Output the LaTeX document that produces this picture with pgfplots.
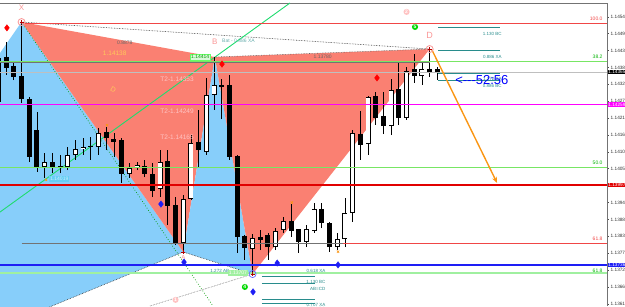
\documentclass[border=0pt]{standalone}
\usepackage{pgfplots}
\pgfplotsset{compat=1.18}
\usepackage{pgfplotstable}
\usepackage{fontspec}
\setmainfont{Liberation Sans}
\usetikzlibrary{arrows.meta}

\definecolor{salmonc}{RGB}{250,128,114}
\definecolor{skyc}{RGB}{135,206,250}
\definecolor{teal2}{RGB}{40,140,140}
\definecolor{lgreen}{RGB}{120,230,100}
\definecolor{pgreen}{RGB}{160,240,160}
\definecolor{lred}{RGB}{240,70,70}
\definecolor{mag}{RGB}{255,0,255}
\definecolor{blueln}{RGB}{30,30,245}
\definecolor{spring}{RGB}{30,220,110}
\definecolor{orng}{RGB}{250,150,20}
\definecolor{pinkc}{RGB}{250,150,150}
\definecolor{pinkt}{RGB}{255,195,195}
\definecolor{yel}{RGB}{255,200,90}
\definecolor{redd}{RGB}{225,0,0}

\pgfplotstableread{
x o h l c
0 1.14268 1.14453 1.14242 1.14411
6 1.14056 1.14102 1.14020 1.14072
9 1.14056 1.14121 1.14046 1.14095
10 1.14095 1.14144 1.14079 1.14115
11 1.14115 1.14150 1.14095 1.14121
13 1.14121 1.14183 1.14095 1.14167
17 1.14033 1.14069 1.14020 1.14053
18 1.14056 1.14072 1.14046 1.14062
21 1.13984 1.14111 1.13958 1.14072
24 1.13808 1.13965 1.13779 1.13952
25 1.13952 1.14160 1.13948 1.14134
27 1.14105 1.14346 1.14095 1.14291
28 1.14291 1.14414 1.14242 1.14323
33 1.13789 1.13838 1.13707 1.13825
36 1.13795 1.13857 1.13785 1.13847
37 1.13851 1.13893 1.13841 1.13880
40 1.13812 1.13867 1.13795 1.13854
41 1.13847 1.13939 1.13841 1.13919
44 1.13795 1.13841 1.13785 1.13821
45 1.13821 1.13955 1.13795 1.13906
46 1.13906 1.14176 1.13877 1.14167
48 1.14131 1.14287 1.14095 1.14284
51 1.14189 1.14343 1.14160 1.14307
53 1.14216 1.14382 1.14209 1.14369
55 1.14352 1.14398 1.14323 1.14375
}\whitec

\pgfplotstableread{
x o h l c
1 1.14411 1.14463 1.14356 1.14378
2 1.14382 1.14398 1.14339 1.14349
3 1.14352 1.14528 1.14264 1.14277
4 1.14277 1.14284 1.14072 1.14089
5 1.14176 1.14235 1.14040 1.14056
7 1.14069 1.14102 1.14036 1.14056
8 1.14059 1.14095 1.14036 1.14056
12 1.14124 1.14154 1.14079 1.14121
14 1.14167 1.14186 1.14111 1.14150
15 1.14147 1.14167 1.14089 1.14137
16 1.14141 1.14150 1.14004 1.14033
19 1.14059 1.14079 1.14023 1.14033
20 1.14030 1.14069 1.13958 1.13978
22 1.14075 1.14111 1.13867 1.13929
23 1.13929 1.13958 1.13802 1.13808
26 1.14137 1.14242 1.14056 1.14111
29 1.14320 1.14343 1.14212 1.14317
30 1.14323 1.14356 1.14079 1.14089
31 1.14089 1.14095 1.13776 1.13828
32 1.13828 1.13834 1.13753 1.13792
34 1.13825 1.13851 1.13785 1.13818
35 1.13834 1.13841 1.13753 1.13795
38 1.13880 1.13935 1.13828 1.13847
39 1.13851 1.13854 1.13776 1.13812
42 1.13919 1.13939 1.13857 1.13873
43 1.13873 1.13877 1.13779 1.13795
47 1.14163 1.14238 1.14079 1.14128
49 1.14284 1.14300 1.14193 1.14216
50 1.14219 1.14300 1.14163 1.14189
52 1.14307 1.14398 1.14193 1.14216
54 1.14372 1.14424 1.14330 1.14352
56 1.14372 1.14440 1.14349 1.14365
57 1.14372 1.14382 1.14339 1.14365
}\blackc

\begin{document}
\begin{tikzpicture}
\useasboundingbox (0,0) rectangle (625pt,306pt);
\begin{axis}[
  at={(0,0)}, anchor=south west,
  scale only axis, width=607pt, height=303pt,
  xmin=0.2, xmax=79.03, ymin=1.13603, ymax=1.14590,
  axis x line*=top, axis y line*=right,
  xtick=\empty,
  ytick={1.13610,1.13665,1.13720,1.13775,1.13830,1.13885,1.13940,1.13995,1.14050,1.14105,1.14160,1.14215,1.14270,1.14325,1.14380,1.14435,1.14490,1.14545},
  scaled y ticks=false,
  yticklabel={\pgfmathprintnumber[fixed,fixed zerofill,precision=5,assume math mode=true]{\tick}},
  yticklabel style={font=\fontsize{4.7}{5}\selectfont, text=black!80, xshift=-1.8pt},
  tick align=outside, major tick length=2pt,
  axis line style={draw=black!55, line width=0.9pt},
  every tick/.style={black!70, line width=0.6pt},
]
% pattern fills
\addplot[fill=skyc, draw=none] coordinates {(0.2,1.14427) (3,1.14528) (24,1.13779) (5.5,1.13588) (0.2,1.13588)} -- cycle;
\addplot[fill=salmonc, draw=none] coordinates {(3,1.14528) (24,1.13779) (28.1,1.14414)} -- cycle;
\addplot[fill=skyc, draw=none] coordinates {(24,1.13779) (28.1,1.14414) (33,1.13707)} -- cycle;
\addplot[fill=salmonc, draw=none] coordinates {(28.1,1.14414) (33,1.13707) (56,1.14440)} -- cycle;

% dotted pattern lines
\addplot[black!80, densely dotted, line width=0.6pt] coordinates {(3,1.14528) (56,1.14440)};
\addplot[black!60, densely dotted, line width=0.6pt] coordinates {(28.1,1.14414) (56,1.14440)};
\addplot[black!80, densely dotted, line width=0.6pt] coordinates {(24,1.13779) (5.5,1.13588)};
\addplot[black!80, densely dotted, line width=0.6pt] coordinates {(24,1.13779) (33,1.13707)};
\addplot[black!60, densely dotted, line width=0.6pt] coordinates {(19.68,1.13603) (33,1.13707)};
\addplot[green!60!black, dotted, line width=0.7pt] coordinates {(3,1.14528) (27.86,1.13603)};
% trend line
\addplot[spring, line width=0.9pt] coordinates {(0.2,1.13909) (37.86,1.14590)};

% candles: wicks
\addplot[draw=none, mark=none, forget plot, error bars/.cd, y dir=plus, y explicit, error mark=none,
  error bar style={draw=black, line width=0.8pt}]
  table[x=x, y=l, y error expr=\thisrow{h}-\thisrow{l}] {\whitec};
\addplot[draw=none, mark=none, forget plot, error bars/.cd, y dir=plus, y explicit, error mark=none,
  error bar style={draw=black, line width=0.8pt}]
  table[x=x, y=l, y error expr=\thisrow{h}-\thisrow{l}] {\blackc};
% black bodies
\addplot[draw=none, mark=none, forget plot, error bars/.cd, y dir=plus, y explicit, error mark=none,
  error bar style={draw=black, line width=5pt}]
  table[x=x, y=c, y error expr=\thisrow{o}-\thisrow{c}+0.000015] {\blackc};
% white bodies
\addplot[draw=none, mark=none, forget plot, error bars/.cd, y dir=plus, y explicit, error mark=none,
  error bar style={draw=black, line width=5pt}]
  table[x=x, y=o, y error expr=\thisrow{c}-\thisrow{o}] {\whitec};
\addplot[draw=none, mark=none, forget plot, error bars/.cd, y dir=plus, y explicit, error mark=none,
  error bar style={draw=white, line width=3.4pt, shorten <=0.8pt, shorten >=0.8pt}]
  table[x=x, y=o, y error expr=\thisrow{c}-\thisrow{o}] {\whitec};

% horizontal levels
\addplot[lgreen, line width=0.8pt] coordinates {(0.2,1.14401) (79.03,1.14401)};
\addplot[black!55, line width=0.8pt] coordinates {(0.2,1.14396) (56,1.14396)};
\addplot[black!25, line width=0.6pt] coordinates {(0.2,1.14365) (79.03,1.14365)};
\addplot[lred, line width=0.8pt] coordinates {(3.45,1.14522) (79.03,1.14522)};
\addplot[mag, line width=1.2pt] coordinates {(0.2,1.14259) (79.03,1.14259)};
\addplot[lgreen, line width=0.8pt] coordinates {(0.2,1.14053) (79.03,1.14053)};
\addplot[redd, line width=1.2pt] coordinates {(0.2,1.13997) (79.03,1.13997)};
\addplot[black!55, line width=0.8pt] coordinates {(3,1.13808) (44.7,1.13808)};
\addplot[lred, line width=0.8pt] coordinates {(44.7,1.13808) (79.03,1.13808)};
\addplot[pgreen, line width=2pt] coordinates {(0.2,1.13710) (79.03,1.13710)};
\addplot[blueln, line width=1.6pt] coordinates {(0.2,1.13737) (79.03,1.13737)};

% projection segments
\addplot[teal2, line width=0.8pt] coordinates {(57.1,1.14509) (65.1,1.14509)};
\addplot[teal2, line width=0.8pt] coordinates {(57.1,1.14434) (65.1,1.14434)};
\addplot[teal2, line width=0.8pt] coordinates {(57.1,1.14362) (65.1,1.14362)};
\addplot[teal2, line width=0.8pt] coordinates {(57.1,1.14339) (65.1,1.14339)};
\addplot[teal2, line width=0.8pt] coordinates {(34.2,1.13701) (41.1,1.13701)};
\addplot[teal2, line width=0.8pt] coordinates {(34.2,1.13678) (41.1,1.13678)};
\addplot[teal2, line width=0.8pt] coordinates {(34.2,1.13626) (41.1,1.13626)};
\addplot[teal2, line width=0.8pt] coordinates {(34.2,1.13613) (41.1,1.13613)};

% orange projection arrow
\addplot[orng, line width=1.4pt, -{Stealth[length=6pt,width=5pt]}] coordinates {(56.3,1.14437) (64.75,1.14004)};

% markers
\addplot[only marks, mark=diamond*, mark size=3.2pt, red] coordinates {(1.1,1.14509) (29.03,1.14391) (49.16,1.14346)};
\addplot[only marks, mark=diamond*, mark size=3.2pt, blueln] coordinates {(21.1,1.13935) (24.1,1.13746) (36.2,1.13743) (44.1,1.13737) (33.06,1.13649)};
\addplot[only marks, mark=o, mark size=3.5pt, pinkc, line width=0.8pt] coordinates {(3,1.14528) (56,1.14440)};
\addplot[only marks, mark=+, mark size=2pt, red!70!black] coordinates {(3,1.14528) (56,1.14440) (24,1.13779) (33,1.13707)};
\addplot[only marks, mark=o, mark size=3.5pt, blue!60, line width=0.7pt] coordinates {(33,1.13707)};
\addplot[only marks, mark=x, mark size=1.6pt, orng, line width=0.6pt] coordinates {(14.1,1.14192) (6.17,1.14014) (38.1,1.13940) (44.1,1.13780)};

% texts
\node[text=pinkc, font=\fontsize{8}{8}\selectfont] at (axis cs:3,1.14574) {X};
\node[text=pinkc, font=\fontsize{8}{8}\selectfont] at (axis cs:28.1,1.14463) {B};
\node[text=pinkc, font=\fontsize{9}{9}\selectfont] at (axis cs:56,1.14486) {D};
\node[text=pinkc, font=\fontsize{6}{6}\selectfont] at (axis cs:24,1.13760) {A};
\node[text=black!60, font=\fontsize{5}{5}\selectfont] at (axis cs:16.4,1.14460) {0.8878};
\node[text=yel, font=\fontsize{6.5}{6.5}\selectfont] at (axis cs:15.1,1.14427) {1.14138};
\node[text=pinkt, font=\fontsize{6.5}{6.5}\selectfont] at (axis cs:23.2,1.14343) {T2-1.14353};
\node[text=pinkt, font=\fontsize{6.5}{6.5}\selectfont] at (axis cs:23.2,1.14238) {T2-1.14249};
\node[text=pinkt, font=\fontsize{6.5}{6.5}\selectfont] at (axis cs:23.2,1.14154) {T2-1.14165};
\node[text=yel, font=\fontsize{7}{7}\selectfont, rotate=-30] at (axis cs:14.9,1.14307) {D};
\node[text=teal2!70, font=\fontsize{5}{5}\selectfont, anchor=west] at (axis cs:28.6,1.14466) {Bat - 0.886 XA};
\node[text=black!60, font=\fontsize{5}{5}\selectfont] at (axis cs:42.1,1.14414) {1.13780};
\node[text=teal2, font=\fontsize{4.5}{4.5}\selectfont, anchor=north east] at (axis cs:65.8,1.14506) {1.130 BC};
\node[text=teal2, font=\fontsize{4.5}{4.5}\selectfont, anchor=north east] at (axis cs:65.8,1.14431) {0.886 XA};
\node[text=teal2, font=\fontsize{4.5}{4.5}\selectfont, anchor=north east] at (axis cs:65.8,1.14359) {1.272 XA};
\node[text=teal2, font=\fontsize{4.5}{4.5}\selectfont, anchor=north east] at (axis cs:65.8,1.14336) {0.886 BC};
\node[text=teal2, font=\fontsize{4.5}{4.5}\selectfont, anchor=north east] at (axis cs:42.9,1.13698) {1.130 BC};
\node[text=teal2, font=\fontsize{4.5}{4.5}\selectfont, anchor=north east] at (axis cs:42.9,1.13675) {AB=CD};
\node[text=teal2, font=\fontsize{4.5}{4.5}\selectfont, anchor=north east] at (axis cs:42.9,1.13623) {0.707 XA};
\node[text=teal2, font=\fontsize{4.5}{4.5}\selectfont, anchor=north east] at (axis cs:42.9,1.13610) {0.786 BC};
\node[text=teal2, font=\fontsize{4.5}{4.5}\selectfont, anchor=north east] at (axis cs:42.9,1.13734) {0.618 XA};
\node[text=teal2, font=\fontsize{4.5}{4.5}\selectfont, anchor=north east] at (axis cs:30.4,1.13734) {1.272 AB};
\node[text=lred, font=\fontsize{5}{5}\selectfont, anchor=south east] at (axis cs:78.9,1.14520) {100.0};
\node[text=green!70!black, font=\fontsize{5}{5}\selectfont, anchor=south east] at (axis cs:78.9,1.14399) {38.2};
\node[text=green!70!black, font=\fontsize{5}{5}\selectfont, anchor=south east] at (axis cs:78.9,1.14051) {50.0};
\node[text=lred, font=\fontsize{5}{5}\selectfont, anchor=south east] at (axis cs:78.9,1.13806) {61.8};
\node[text=green!70!black, font=\fontsize{5}{5}\selectfont, anchor=south east] at (axis cs:78.9,1.13700) {61.8};
\node[fill=pgreen, text=white, font=\fontsize{5}{5}\selectfont, inner sep=1pt] at (axis cs:31.1,1.13710) {1.13707};
\node[fill=cyan!60, text=cyan!20, font=\fontsize{5}{5}\selectfont, inner sep=1pt] at (axis cs:7.9,1.14016) {1.14019};
\node[draw=green!60, fill=pgreen!40, text=green!60!black, font=\fontsize{5}{5}\selectfont, inner sep=1pt] at (axis cs:26.2,1.14414) {1.14414};
\node[circle, fill=green!85!black, text=white, font=\fontsize{5}{5}\selectfont\bfseries, inner sep=0.6pt] at (axis cs:54.1,1.14512) {5};
\node[circle, fill=green!85!black, text=white, font=\fontsize{5}{5}\selectfont\bfseries, inner sep=0.6pt] at (axis cs:32.0,1.13665) {4};
\node[circle, fill=pinkt, text=white, font=\fontsize{5}{5}\selectfont\bfseries, inner sep=0.6pt] at (axis cs:53.0,1.14561) {2};
\node[circle, fill=pinkt, text=white, font=\fontsize{5}{5}\selectfont\bfseries, inner sep=0.6pt] at (axis cs:23.0,1.13623) {1};
\node[text=blue, font=\fontsize{13}{13}\selectfont, anchor=west, inner sep=0pt] at (axis cs:59.3,1.14339) {<{-}{-}{-}52:56};
\coordinate (pK) at (axis cs:79.03,1.14365);
\coordinate (pM) at (axis cs:79.03,1.14259);
\coordinate (pR) at (axis cs:79.03,1.13997);
\coordinate (pB) at (axis cs:79.03,1.13737);
\end{axis}
\begin{scope}[every node/.style={anchor=west, inner sep=0.7pt, text=white, font=\fontsize{4.7}{5}\selectfont}]
\node[fill=black] at ([xshift=0.5pt]pK) {1.14365};
\node[fill=mag] at ([xshift=0.5pt]pM) {1.14259};
\node[fill=redd] at ([xshift=0.5pt]pR) {1.13997};
\node[fill=blueln] at ([xshift=0.5pt]pB) {1.13736};
\end{scope}
\end{tikzpicture}
\end{document}
